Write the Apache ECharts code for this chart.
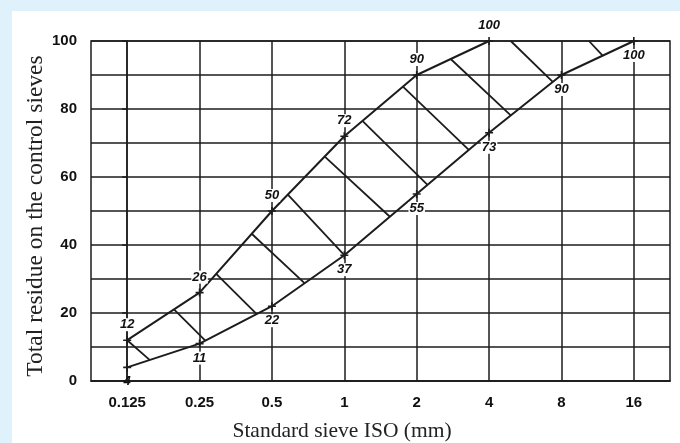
<!DOCTYPE html>
<html>
<head>
<meta charset="utf-8">
<script src="https://cdn.jsdelivr.net/npm/echarts@6/dist/echarts.min.js"></script>
<style>
html,body{margin:0;padding:0;background:#dff2fb;}
#c{width:680px;height:443px;}
</style>
</head>
<body>
<div id="c"></div>
<script>
// ---- data ----
const categories = ['0.125', '0.25', '0.5', '1', '2', '4', '8', '16'];
const upperValues = [12, 26, 50, 72, 90, 100];          // upper limit curve (0.125 … 4)
const lowerValues = [4, 11, 22, 37, 55, 73, 90, 100];   // lower limit curve (0.125 … 16)
// hatch segments between the curves: start on upper curve, end on lower curve [category index, value]
const hatchStart = [[0, 12], [0.65, 21], [1.23, 31.5], [1.72, 43.3], [2.22, 54.8], [2.73, 66], [3.25, 76.5], [3.81, 86.6], [4.47, 94.7], [5.3, 100], [6.38, 100]];
const hatchEnd   = [[0.31, 6.2], [1.08, 11.9], [1.79, 19.7], [2.45, 28.8], [3.0, 37], [3.63, 48.3], [4.15, 57.7], [4.72, 68], [5.3, 78.1], [5.88, 88], [6.57, 95.7]];
const yMin = 0, yMax = 100;
const xTitle = 'Standard sieve ISO (mm)';
const yTitle = 'Total residue on the control sieves';

const INK = '#1c1c1c';
const SANS = '"Liberation Sans", Arial, sans-serif';
const SERIF = '"Liberation Serif", "Times New Roman", serif';
const plus = 'path://M4,0H6V4H10V6H6V10H4V6H0V4H4Z';

const chart = echarts.init(document.getElementById('c'));
const idx = categories.map((_, i) => i);
const upperData = upperValues.map((v, i) => [i, v]);
const lowerData = lowerValues.map((v, i) => i === 0 ? { value: [i, v], label: { backgroundColor: 'transparent' } } : [i, v]);
const gridLines = idx.map(i => ({ coords: [[i, yMin], [i, yMax]] }));
const hatches = hatchStart.map((s, k) => ({ coords: [s, hatchEnd[k]] }));

const pointLabel = (pos, dist) => ({
  show: true, position: pos, distance: dist,
  formatter: p => String(p.value[1]),
  fontFamily: SANS, fontSize: 13, fontWeight: 'bold', fontStyle: 'italic', color: '#111',
  backgroundColor: '#fff', padding: [0, 1]
});

chart.setOption({
  animation: false,
  backgroundColor: '#dff2fb',
  graphic: [
    { type: 'rect', z: -100, shape: { x: 12, y: 11, width: 668, height: 432 }, style: { fill: '#fff' } },
    { type: 'text', x: 342, y: 431, style: { text: xTitle, font: '21.5px ' + SERIF, fill: '#222', textAlign: 'center', textVerticalAlign: 'middle' } },
    { type: 'text', x: 36, y: 216, rotation: Math.PI / 2, style: { text: yTitle, font: '23.5px ' + SERIF, fill: '#222', textAlign: 'center', textVerticalAlign: 'middle' } }
  ],
  grid: { left: 91, right: 10, top: 41, bottom: 62, show: true, borderColor: INK, borderWidth: 1.5 },
  xAxis: [
    {
      type: 'category', data: categories, boundaryGap: true,
      axisLine: { lineStyle: { color: INK, width: 1.5 } },
      axisTick: { alignWithLabel: true, length: 5, lineStyle: { color: INK, width: 1.5 } },
      axisLabel: { margin: 14, fontFamily: SANS, fontSize: 15, fontWeight: 'bold', color: '#111' },
      splitLine: { show: false }
    },
    { type: 'value', min: -0.5, max: 7.5, show: false }
  ],
  yAxis: {
    type: 'value', min: yMin, max: yMax, interval: 20,
    axisLine: { show: true, lineStyle: { color: INK, width: 1.5 } },
    axisTick: { show: true, length: 5, lineStyle: { color: INK, width: 1.5 } },
    axisLabel: { margin: 14, fontFamily: SANS, fontSize: 15, fontWeight: 'bold', color: '#111' },
    splitLine: { show: true, lineStyle: { color: INK, width: 1.5 } },
    minorTick: { show: false, splitNumber: 2 },
    minorSplitLine: { show: true, lineStyle: { color: INK, width: 1.5 } }
  },
  series: [
    { type: 'lines', coordinateSystem: 'cartesian2d', xAxisIndex: 1, yAxisIndex: 0, z: 1, silent: true,
      lineStyle: { color: INK, width: 1.5, opacity: 1 }, data: gridLines },
    { type: 'lines', coordinateSystem: 'cartesian2d', xAxisIndex: 1, yAxisIndex: 0, z: 1, silent: true,
      lineStyle: { color: INK, width: 1.8, opacity: 1 }, data: hatches },
    { type: 'line', xAxisIndex: 1, z: 3, clip: false, data: upperData, symbol: plus, symbolSize: 8, showAllSymbol: true,
      lineStyle: { color: INK, width: 2 }, itemStyle: { color: INK }, label: pointLabel('top', 5) },
    { type: 'line', xAxisIndex: 1, z: 3, clip: false, data: lowerData, symbol: plus, symbolSize: 8, showAllSymbol: true,
      lineStyle: { color: INK, width: 2 }, itemStyle: { color: INK }, label: pointLabel('bottom', 4) }
  ]
});
</script>
</body>
</html>
